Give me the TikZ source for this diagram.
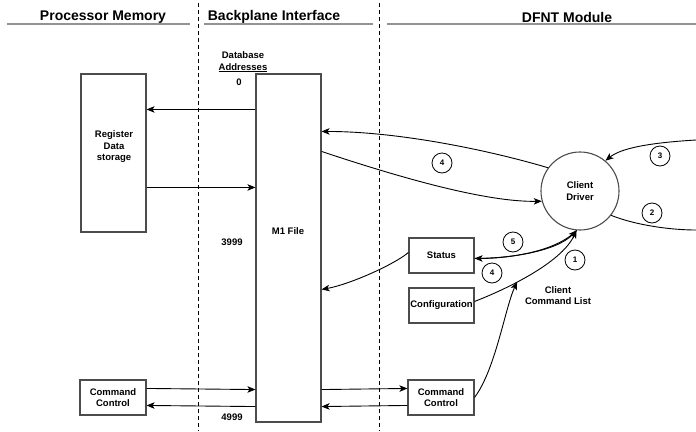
\documentclass[tikz,border=0pt]{standalone}
\usepackage{fontspec}
\setmainfont{Liberation Sans}
\usetikzlibrary{arrows.meta,calc}
\begin{document}
\begin{tikzpicture}[x=1pt,y=-1pt,
  hdr/.style={font=\bfseries\fontsize{14}{16}\selectfont, inner sep=0pt},
  hline/.style={draw=gray!85, line width=1.6pt},
  sep/.style={draw=black, line width=0.9pt, dash pattern=on 4pt off 3pt},
  box/.style={draw=gray!60!black, line width=1.1pt, rectangle, inner sep=0pt,
    font=\bfseries\fontsize{9.5}{11.5}\selectfont, align=center},
  lbl/.style={font=\bfseries\fontsize{9.5}{11.5}\selectfont, align=center, inner sep=0pt},
  num/.style={draw=black, circle, line width=0.8pt, minimum size=20pt, inner sep=0pt,
    font=\bfseries\fontsize{8}{9}\selectfont},
  arr/.style={draw=black, line width=0.9pt, -{Stealth[length=8pt,width=6.5pt,inset=2pt]}},
  ln/.style={draw=black, line width=0.9pt}
]
\useasboundingbox (0,0) rectangle (696,431);
% headers
\node[hdr] (h1) at (103,17) {Processor Memory};
\node[hdr] (h2) at (274,17) {Backplane Interface};
\node[hdr] (h3) at (567,17) {DFNT Module};
\draw[hline] (7,24) -- (190,24);
\draw[hline] (204,24) -- (373,24);
\draw[hline] (387,24) -- (696,24);
% separators
\draw[sep] (198,3) -- (198,431);
\draw[sep] (379,3) -- (379,431);
% boxes
\node[box, minimum width=65pt, minimum height=158pt] (reg) at (113.5,153) {};
\node[lbl] (regt) at (114,147) {Register\\Data\\storage};
\node[box, minimum width=65pt, minimum height=348pt] (m1) at (288.5,248) {};
\node[lbl] (m1t) at (288,231) {M1 File};
\node[lbl] (dba) at (243,62) {Database\\\underline{Addresses}};
\node[lbl] (a0) at (239,82) {0};
\node[lbl] (a3999) at (232,242) {3999};
\node[lbl] (a4999) at (232,417) {4999};
\node[box, minimum width=66pt, minimum height=35pt] (cmdl) at (113,397.5) {Command\\Control};
\node[box, minimum width=66pt, minimum height=35pt] (cmdr) at (441,397.5) {Command\\Control};
\node[box, minimum width=65pt, minimum height=35pt] (status) at (441.5,255.5) {Status};
\node[box, minimum width=65pt, minimum height=35pt] (conf) at (441.5,305.5) {Configuration};
\node[box, circle, minimum size=78pt] (drv) at (580,191) {Client\\Driver};
\node[lbl] (ccl) at (558,295.5) {Client\\Command List};
% free ends on the right edge
\coordinate (r3) at (696,140);
\coordinate (r2) at (696,230);
% straight arrows
\draw[arr] ($(m1.north west)+(0,36)$) -- ($(reg.north east)+(0,36)$);
\draw[arr] ($(reg.north east)+(0,114)$) -- ($(m1.north west)+(0,114)$);
\draw[arr] ($(cmdl.north east)+(0,9)$) -- ($(m1.south west)+(0,-33)$);
\draw[arr] ($(m1.south west)+(0,-16)$) -- ($(cmdl.north east)+(0,26)$);
\draw[arr] ($(m1.south east)+(0,-33)$) -- ($(cmdr.north west)+(0,9)$);
\draw[arr] ($(cmdr.north west)+(0,26)$) -- ($(m1.south east)+(0,-16)$);
% curves
\draw[arr] (drv.144) .. controls +(-57,-17) and +(78,0) .. ($(m1.north east)+(0,58)$);
\draw[arr] ($(m1.north east)+(0,78)$) .. controls +(69,23) and +(-59,1) .. (drv.195);
\draw[arr] (r3) .. controls +(-50,3) and +(15,-12) .. (drv.50);
\draw[ln] (drv.-38) .. controls +(25,10) and +(-25,0) .. (r2);
\draw[arr] (drv.265) .. controls +(-20,21) and +(35,0) .. ($(status.north east)+(0,21)$);
\draw[arr] ($(status.north east)+(0,21)$) .. controls +(35,0) and +(-20,21) .. (drv.265);
\draw[arr] ($(conf.north east)+(0,14)$) .. controls +(26,-10) and +(-16,34) .. coordinate[pos=0.4] (cl) (drv.265);
\draw[arr] ($(cmdr.north east)+(0,18)$) .. controls +(21,-28) and +(-12,26) .. (cl);
\draw[arr] ($(status.north west)+(0,15)$) .. controls +(-14,12) and +(28,-5) .. ($(m1.north east)+(0,216)$);
% number circles
\node[num] (n4a) at (442,163) {4};
\node[num] (n3) at (660,156) {3};
\node[num] (n2) at (652,213) {2};
\node[num] (n5) at (513,242) {5};
\node[num] (n4b) at (492,273) {4};
\node[num] (n1) at (575,260) {1};
\end{tikzpicture}
\end{document}
